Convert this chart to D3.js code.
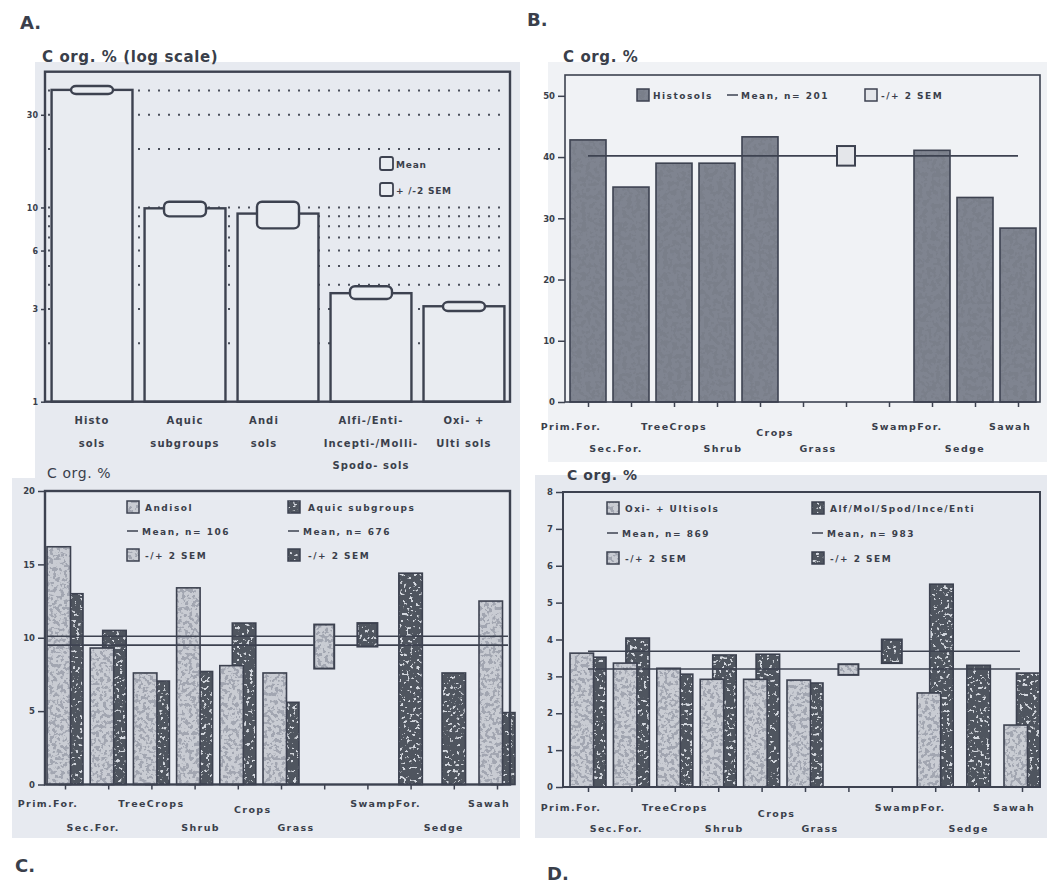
<!DOCTYPE html>
<html><head><meta charset="utf-8">
<script src="https://cdn.jsdelivr.net/npm/d3@7"></script>
<style>
body{margin:0;background:#fff;}
svg text{font-family:"DejaVu Sans",sans-serif;fill:#3a3f4b;}
</style></head><body>
<svg id="fig" width="1047" height="885"></svg>
<script>
// ---------------- DATA ----------------
// Panel A (log scale): mean and -/+ 2 SEM by soil group
const aCategories = [["Histo","sols"],["Aquic","subgroups"],["Andi","sols"],["Alfi-/Enti-","Incepti-/Molli-","Spodo- sols"],["Oxi- +","Ulti sols"]];
const aMean    = [40.3, 9.9, 9.3, 3.62, 3.10];
const aSemLow  = [38.4, 9.0, 7.8, 3.38, 2.93];
const aSemHigh = [42.2, 10.7, 10.7, 3.93, 3.26];
const aTicks   = [1, 3, 6, 10, 30];
const aGrid    = [2, 3, 4, 5, 6, 7, 8, 9, 10, 20, 30, 40];

// Land-use categories (panels B, C, D); two unlabelled slots hold the SEM boxes
const landUse = ["Prim.For.","Sec.For.","TreeCrops","Shrub","Crops","Grass","","","SwampFor.","Sedge","Sawah"];

// Panel B: Histosols
const bHistosols = [42.8, 35.1, 39.0, 39.0, 43.3, null, null, null, 41.1, 33.4, 28.4];
const bMean = 40.2, bSem = [38.6, 41.8];
const bTicks = [0, 10, 20, 30, 40, 50];

// Panel C: Andisol vs Aquic subgroups
const cAndisol = [16.2, 9.3, 7.6, 13.4, 8.1, 7.6, null, null, null, null, 12.5];
const cAquic   = [13.0, 10.5, 7.05, 7.7, 11.0, 5.6, null, null, 14.4, 7.6, 4.9];
const cAndisolMean = 9.5, cAndisolSem = [7.9, 10.9];
const cAquicMean = 10.1,  cAquicSem = [9.4, 11.0];
const cTicks = [0, 5, 10, 15, 20];

// Panel D: Oxi-+Ultisols vs Alf/Mol/Spod/Ince/Enti
const dOxi = [3.63, 3.36, 3.22, 2.92, 2.92, 2.9, null, null, 2.55, null, 1.68];
const dAlf = [3.52, 4.04, 3.06, 3.58, 3.6, 2.82, null, null, 5.5, 3.3, 3.09];
const dOxiMean = 3.2,  dOxiSem = [3.04, 3.33];
const dAlfMean = 3.68, dAlfSem = [3.36, 4.0];
const dTicks = [0, 1, 2, 3, 4, 5, 6, 7, 8];

// ---------------- DRAWING ----------------
const INK = "#3d4250";
const fig = d3.select("#fig");
const defs = fig.append("defs");

function speckle(id, rgb, a, b, freq, seed) {
  const f = defs.append("filter").attr("id", id);
  f.append("feTurbulence").attr("type","fractalNoise").attr("baseFrequency",freq)
    .attr("numOctaves",2).attr("seed",seed).attr("result","n");
  f.append("feColorMatrix").attr("in","n").attr("type","matrix")
    .attr("values",`0 0 0 0 ${rgb[0]} 0 0 0 0 ${rgb[1]} 0 0 0 0 ${rgb[2]} ${a} 0 0 0 ${b}`).attr("result","d");
  f.append("feComposite").attr("in","d").attr("in2","SourceGraphic").attr("operator","in").attr("result","dc");
  const m = f.append("feMerge");
  m.append("feMergeNode").attr("in","SourceGraphic");
  m.append("feMergeNode").attr("in","dc");
}
speckle("texB", [0.21,0.23,0.28], -16, 8.9, 0.22, 3);
speckle("texLight", [0.36,0.38,0.44], -14, 7.0, 0.28, 7);
speckle("texDark", [0.66,0.69,0.74], 14, -8.6, 0.3, 11);

const styles = {
  histo: {fill:"#7a7f8a", filter:"url(#texB)"},
  light: {fill:"#c9ccd3", filter:"url(#texLight)"},
  dark:  {fill:"#50555f", filter:"url(#texDark)"},
  semB:  {fill:"#e4e6ea", filter:null}
};

// backgrounds
fig.append("rect").attr("x",35).attr("y",62).attr("width",485).attr("height",416).attr("fill","#e7eaf0");
fig.append("rect").attr("x",12).attr("y",478).attr("width",508).attr("height",360).attr("fill","#e7eaf0");
fig.append("rect").attr("x",548).attr("y",62).attr("width",499).attr("height",400).attr("fill","#f0f2f5");
fig.append("rect").attr("x",535).attr("y",475).attr("width",512).attr("height",363).attr("fill","#e6e9ef");

function texRect(g, x, y, w, h, st, sw) {
  g.append("rect").attr("x",x).attr("y",y).attr("width",w).attr("height",h)
    .attr("fill",st.fill).attr("filter",st.filter);
  g.append("rect").attr("x",x).attr("y",y).attr("width",w).attr("height",h)
    .attr("fill","none").attr("stroke",INK).attr("stroke-width",sw||1.6);
}

function styleAxis(sel, size) {
  sel.select(".domain").remove();
  sel.selectAll("line").attr("stroke",INK).attr("stroke-width",1.5);
  sel.selectAll("text").attr("font-size",size||8).attr("font-weight","bold").attr("fill",INK)
    .attr("font-family","DejaVu Sans");
}

// ===== Panel A =====
(function(){
  const g = fig.append("g");
  const L=45, R=510, T=71.7, B=401.7;
  const y = d3.scaleLog().domain([1,50]).range([B,T]);
  const x = d3.scaleBand().domain(d3.range(aMean.length)).range([46,510]).paddingInner(0.13).paddingOuter(0.06);
  g.append("text").attr("x",20).attr("y",29).attr("font-size",18).attr("font-weight","bold").text("A.");
  g.append("text").attr("x",42).attr("y",62).attr("font-size",15).attr("font-weight","bold").attr("letter-spacing",0.6).text("C org. % (log scale)");
  // dotted grid
  g.selectAll(".grid").data(aGrid).enter().append("line")
    .attr("x1",L+3).attr("x2",R-6).attr("y1",d=>y(d)).attr("y2",d=>y(d))
    .attr("stroke","#4a4f5b").attr("stroke-width",2).attr("stroke-dasharray","2,8");
  // bars
  aMean.forEach((m,i)=>{
    g.append("rect").attr("x",x(i)).attr("y",y(m)).attr("width",x.bandwidth()).attr("height",y(1)-y(m))
      .attr("fill","#e9ecf1").attr("stroke",INK).attr("stroke-width",2.4);
    g.append("rect").attr("x",x(i)+x.bandwidth()/2-21).attr("y",y(aSemHigh[i])).attr("width",42)
      .attr("height",y(aSemLow[i])-y(aSemHigh[i])).attr("rx",5)
      .attr("fill","#e9ecf1").attr("stroke",INK).attr("stroke-width",2.4);
  });
  g.append("rect").attr("x",L).attr("y",T).attr("width",R-L).attr("height",B-T)
    .attr("fill","none").attr("stroke",INK).attr("stroke-width",2.4);
  const ax = g.append("g").attr("transform",`translate(${L},0)`)
    .call(d3.axisLeft(y).tickValues(aTicks).tickFormat(d3.format("d")).tickSize(4).tickPadding(3));
  styleAxis(ax, 8);
  // legend
  [["Mean",157],["+ /-2 SEM",183]].forEach(([t,yy])=>{
    g.append("rect").attr("x",380).attr("y",yy).attr("width",13).attr("height",13).attr("rx",2)
      .attr("fill","#e9ecf1").attr("stroke",INK).attr("stroke-width",1.8);
    g.append("text").attr("x",396).attr("y",yy+10.5).attr("font-size",9).attr("font-weight","bold")
      .attr("letter-spacing",0.8).text(t);
  });
  // x labels
  aCategories.forEach((lines,i)=>{
    lines.forEach((ln,k)=>{
      g.append("text").attr("x",x(i)+x.bandwidth()/2 + (i===2?-14:0)).attr("y",424+k*22.5)
        .attr("text-anchor","middle").attr("font-size",10).attr("font-weight","bold")
        .attr("letter-spacing",1.1).attr("fill","#4a4f5b").text(ln);
    });
  });
})();

// ===== Generic land-use bar panel =====
const labelShift = [-17,-15,0,6,15,15,0,0,-25,-10,-8];
function barPanel(p) {
  const g = fig.append("g");
  const y = d3.scaleLinear().domain(p.yDomain).range([p.B, p.T]);
  const x = d3.scalePoint().domain(d3.range(landUse.length)).range(p.tickRange);
  g.append("text").attr("x",p.letter[0]).attr("y",p.letter[1]).attr("font-size",18).attr("font-weight","bold")
    .attr("font-family",p.letterFont).text(p.letterText);
  g.append("text").attr("x",p.title[0]).attr("y",p.title[1]).attr("font-size",p.titleSize)
    .attr("font-weight",p.titleWeight).attr("letter-spacing",0.6).text("C org. %");
  // bars
  landUse.forEach((_,i)=>{
    const c = x(i);
    const present = p.series.filter(s=>s.values[i]!=null);
    if (present.length===2) {
      const [front, back] = present;
      texRect(g, c + p.pairSpan/2 - p.bw, y(back.values[i]), p.bw, y(0)-y(back.values[i]), styles[back.style]);
      texRect(g, c - p.pairSpan/2, y(front.values[i]), p.bw, y(0)-y(front.values[i]), styles[front.style]);
    } else if (present.length===1) {
      const s = present[0];
      texRect(g, c - p.bw/2, y(s.values[i]), p.bw, y(0)-y(s.values[i]), styles[s.style]);
    }
  });
  // mean lines and SEM boxes
  p.series.forEach(s=>{
    g.append("line").attr("x1",p.lineExtent[0]).attr("x2",p.lineExtent[1])
      .attr("y1",y(s.mean)).attr("y2",y(s.mean)).attr("stroke",INK).attr("stroke-width",1.6);
  });
  p.series.forEach(s=>{
    const c = x(s.semPos);
    texRect(g, c - p.semW/2, y(s.sem[1]), p.semW, y(s.sem[0])-y(s.sem[1]), styles[s.semStyle], 2);
  });
  // frame
  g.append("rect").attr("x",p.L).attr("y",p.T).attr("width",p.R-p.L).attr("height",p.B-p.T)
    .attr("fill","none").attr("stroke",INK).attr("stroke-width",p.frameW);
  const ay = g.append("g").attr("transform",`translate(${p.L},0)`)
    .call(d3.axisLeft(y).tickValues(p.yTicks).tickSize(7).tickPadding(3).tickFormat(d3.format("d")));
  styleAxis(ay, 8.5);
  const axb = g.append("g").attr("transform",`translate(0,${p.B})`)
    .call(d3.axisBottom(x).tickSize(5).tickFormat(""));
  styleAxis(axb);
  // x labels, staggered on two rows
  landUse.forEach((lab,i)=>{
    if (!lab) return;
    const row = i % 2;
    g.append("text").attr("x",x(i)+labelShift[i]).attr("y",p.labelRows[row] + (lab==="Crops"?6:0))
      .attr("text-anchor","middle").attr("font-size",9.5).attr("font-weight","bold")
      .attr("letter-spacing",1.4).text(lab);
  });
  // legend
  p.legend.forEach(item=>{
    if (item.type==="box") {
      texRect(g, item.x, item.y-6, 12, 12, styles[item.style], 1.5);
    } else {
      g.append("line").attr("x1",item.x).attr("x2",item.x+11).attr("y1",item.y).attr("y2",item.y)
        .attr("stroke",INK).attr("stroke-width",1.5);
    }
    g.append("text").attr("x",item.x+item.dx).attr("y",item.y+3.5).attr("font-size",9)
      .attr("font-weight","bold").attr("letter-spacing",1.5).text(item.text);
  });
}

// ===== Panel B =====
barPanel({
  L:565, R:1040, T:75, B:402, yDomain:[0,53.4], yTicks:bTicks, tickRange:[588,1018],
  letter:[527,26], letterText:"B.", letterFont:"Liberation Serif",
  title:[563,62], titleSize:15, titleWeight:"bold",
  series:[{values:bHistosols, style:"histo", mean:bMean, sem:bSem, semPos:6, semStyle:"semB"}],
  bw:36, pairSpan:36, semW:18, lineExtent:[588,1018], frameW:1.6,
  labelRows:[430,452],
  legend:[
    {type:"box", style:"histo", x:637, y:95, dx:16, text:"Histosols"},
    {type:"line", x:727, y:95, dx:14, text:"Mean, n= 201"},
    {type:"box", style:"semB", x:865, y:95, dx:16, text:"-/+ 2 SEM"}
  ]
});

// ===== Panel C =====
barPanel({
  L:45, R:510, T:491, B:784.5, yDomain:[0,20], yTicks:cTicks, tickRange:[65,497],
  letter:[15,872], letterText:"C.", letterFont:"DejaVu Sans",
  title:[47,478], titleSize:14, titleWeight:"normal",
  series:[
    {values:cAndisol, style:"light", mean:cAndisolMean, sem:cAndisolSem, semPos:6, semStyle:"light"},
    {values:cAquic, style:"dark", mean:cAquicMean, sem:cAquicSem, semPos:7, semStyle:"dark"}
  ],
  bw:23.5, pairSpan:36, semW:20, lineExtent:[47,508], frameW:2.4,
  labelRows:[807,831],
  legend:[
    {type:"box", style:"light", x:127, y:507, dx:18, text:"Andisol"},
    {type:"line", x:127, y:531, dx:15, text:"Mean, n= 106"},
    {type:"box", style:"light", x:127, y:555, dx:18, text:"-/+ 2 SEM"},
    {type:"box", style:"dark", x:288, y:507, dx:20, text:"Aquic subgroups"},
    {type:"line", x:288, y:531, dx:15, text:"Mean, n= 676"},
    {type:"box", style:"dark", x:288, y:555, dx:20, text:"-/+ 2 SEM"}
  ]
});

// ===== Panel D =====
barPanel({
  L:563, R:1040, T:492, B:787, yDomain:[0,8], yTicks:dTicks, tickRange:[588,1022],
  letter:[547,880], letterText:"D.", letterFont:"Liberation Serif",
  title:[567,480], titleSize:14, titleWeight:"bold",
  series:[
    {values:dOxi, style:"light", mean:dOxiMean, sem:dOxiSem, semPos:6, semStyle:"light"},
    {values:dAlf, style:"dark", mean:dAlfMean, sem:dAlfSem, semPos:7, semStyle:"dark"}
  ],
  bw:23.5, pairSpan:36, semW:20, lineExtent:[588,1020], frameW:2,
  labelRows:[811,832],
  legend:[
    {type:"box", style:"light", x:607, y:508, dx:18, text:"Oxi- + Ultisols"},
    {type:"line", x:607, y:533, dx:15, text:"Mean, n= 869"},
    {type:"box", style:"light", x:607, y:558, dx:18, text:"-/+ 2 SEM"},
    {type:"box", style:"dark", x:812, y:508, dx:18, text:"Alf/Mol/Spod/Ince/Enti"},
    {type:"line", x:812, y:533, dx:15, text:"Mean, n= 983"},
    {type:"box", style:"dark", x:812, y:558, dx:18, text:"-/+ 2 SEM"}
  ]
});
</script>
</body></html>
